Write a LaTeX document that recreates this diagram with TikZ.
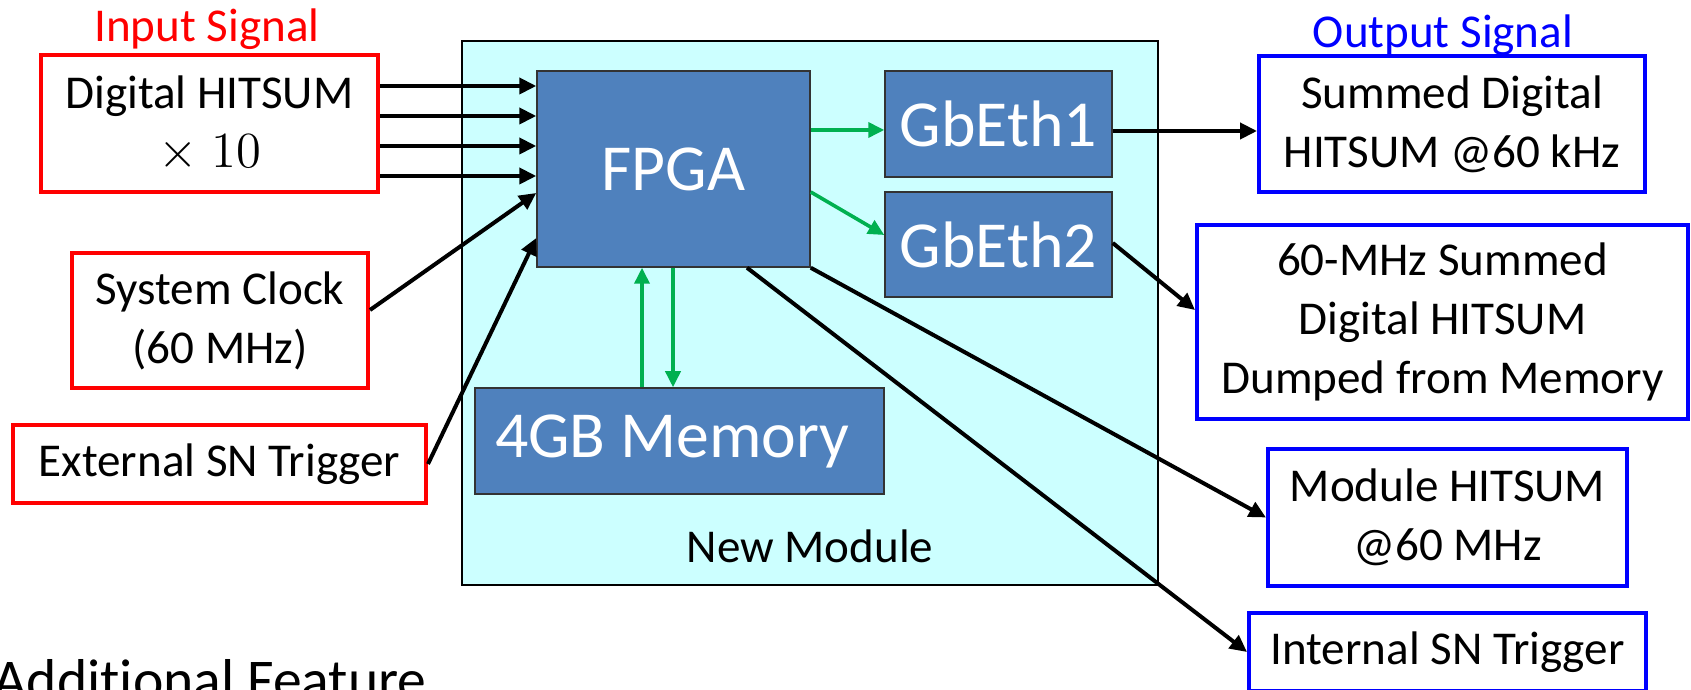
\documentclass[tikz,border=0pt]{standalone}
\usepackage{fontspec}
\setmainfont{Carlito}[Ligatures={NoCommon}]
\usetikzlibrary{arrows.meta}

\definecolor{sigred}{HTML}{FF0000}
\definecolor{sigblue}{HTML}{0000FF}
\definecolor{modcyan}{HTML}{CCFFFF}
\definecolor{chipblue}{HTML}{4F81BD}
\definecolor{busgreen}{HTML}{00B050}

\newcommand{\boxfont}{\fontsize{13.4pt}{16.8pt}\selectfont}
\newcommand{\chipfont}{\fontsize{18.7pt}{22pt}\selectfont}
\newcommand{\featfont}{\fontsize{16.4pt}{19pt}\selectfont}

\tikzset{
    inbox/.style={rectangle, draw=sigred, line width=0.4mm, fill=white, align=center, font=\boxfont},
    outbox/.style={rectangle, draw=sigblue, line width=0.4mm, fill=white, align=center, font=\boxfont},
    chip/.style={rectangle, draw=black!80, line width=0.15mm, fill=chipblue, text=white, align=center, font=\chipfont},
    sig/.style={line width=0.4mm, -{Triangle[length=1.7mm, width=1.6mm]}},
    bus/.style={busgreen, line width=0.36mm, -{Triangle[length=1.6mm, width=1.5mm]}}
}

\begin{document}
\begin{tikzpicture}[x=0.1mm, y=-0.1mm]
    \useasboundingbox (0,0) rectangle (1691,690);
    \clip (0,0) rectangle (1691,690);
    % module and its parts
    \node[rectangle, draw=black, line width=0.15mm, fill=modcyan, minimum width=69.6mm, minimum height=54.4mm] (module) at (810,313) {};
    \node[anchor=base, font=\boxfont] (modlabel) at (810,563) {New Module};
    \node[chip, minimum width=27.3mm, minimum height=19.6mm] (fpga) at (673.5,169) {FPGA};
    \node[chip, minimum width=22.7mm, minimum height=10.6mm] (eth1) at (998.5,124) {GbEth1};
    \node[chip, minimum width=22.7mm, minimum height=10.5mm] (eth2) at (998.5,244.5) {GbEth2};
    \node[chip, align=flush left, text width=36.9mm, inner xsep=2mm, minimum height=10.6mm] (mem) at (679.5,441) {4GB Memory};
    % inputs
    \node[anchor=base, font=\boxfont, text=sigred] (inlabel) at (207,42) {Input Signal};
    \node[inbox, minimum width=33.7mm, minimum height=13.7mm] (dig) at (209.5,123.5) {Digital HITSUM\\$\times\;10$};
    \node[inbox, minimum width=29.6mm, minimum height=13.5mm] (clk) at (220,320.5) {System Clock\\(60 MHz)};
    \node[inbox, minimum width=41.3mm, minimum height=7.8mm] (ext) at (219.5,464) {External SN Trigger};
    % outputs
    \node[anchor=base, font=\boxfont, text=sigblue] (outlabel) at (1443,48) {Output Signal};
    \node[outbox, minimum width=38.6mm, minimum height=13.6mm] (sum) at (1452,124) {Summed Digital\\HITSUM @60 kHz};
    \node[outbox, minimum width=49.1mm, minimum height=19.4mm] (dump) at (1442.5,322) {60-MHz Summed\\Digital HITSUM\\Dumped from Memory};
    \node[outbox, minimum width=35.9mm, minimum height=13.7mm] (mod) at (1447.5,517.5) {Module HITSUM\\@60 MHz};
    \node[outbox, minimum width=39.7mm, minimum height=7.8mm] (intl) at (1447.5,652) {Internal SN Trigger};
    \node[anchor=base west, font=\featfont] (feat) at (-19,699) {Additional Feature};
    % connectors
    \foreach \yy in {86,116,146,176} {
        \draw[sig] (dig.east |- 0,\yy) -- (fpga.west |- 0,\yy);
    }
    \draw[sig] (clk.east |- 0,310) -- (fpga.west |- 0,193);
    \draw[sig] (ext.east) -- (fpga.west |- 0,238);
    \draw[bus] (fpga.east |- 0,130) -- (eth1.west |- 0,130);
    \draw[bus] (fpga.east |- 0,192) -- (eth2.west |- 0,235);
    \draw[bus] (mem.north -| 642,0) -- (fpga.south -| 642,0);
    \draw[bus] (fpga.south -| 673,0) -- (mem.north -| 673,0);
    \draw[sig] (eth1.east |- 0,131) -- (sum.west |- 0,131);
    \draw[sig] (eth2.east |- 0,243) -- (dump.west |- 0,310);
    \draw[sig] (fpga.south east) -- (mod.west);
    \draw[sig] (fpga.south -| 747,0) -- (intl.west);
\end{tikzpicture}
\end{document}
